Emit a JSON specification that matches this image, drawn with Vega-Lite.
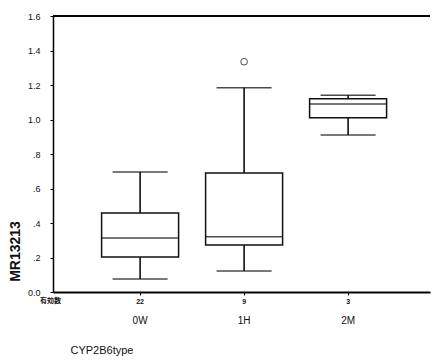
{
  "$schema": "https://vega.github.io/schema/vega-lite/v6.json",
  "width": 377,
  "height": 276,
  "autosize": {"type": "none"},
  "padding": {"left": 53, "top": 16, "right": 2, "bottom": 71},
  "background": "white",
  "config": {
    "view": {"stroke": null},
    "font": "Liberation Sans",
    "axis": {"grid": false, "labelColor": "#111", "titleColor": "#111", "domainColor": "#000", "tickColor": "#000"},
    "axisY": {"labelOverlap": false, "tickCount": 9}
  },
  "data": {
    "values": [
      {"type": "0W", "lower": 0.075, "q1": 0.203, "median": 0.313, "q3": 0.458, "upper": 0.696, "outlier": null},
      {"type": "1H", "lower": 0.122, "q1": 0.272, "median": 0.32, "q3": 0.69, "upper": 1.184, "outlier": 1.335},
      {"type": "2M", "lower": 0.91, "q1": 1.01, "median": 1.09, "q3": 1.12, "upper": 1.14, "outlier": null}
    ]
  },
  "resolve": {"axis": {"x": "independent"}},
  "layer": [
    {
      "mark": {"type": "rule", "color": "#000", "strokeWidth": 1.5},
      "encoding": {
        "x": {
          "field": "type", "type": "nominal",
          "scale": {"type": "band", "domain": ["0W", "1H", "2M"], "paddingInner": 0, "paddingOuter": 0.3125, "align": 0.54},
          "axis": {
            "orient": "bottom",
            "domainWidth": 2,
            "tickSize": 3,
            "labelAngle": 0,
            "labelPadding": 2,
            "labelFontSize": 7,
            "labelFontWeight": "bold",
            "labelBaseline": "top",
            "labelExpr": "datum.value == '0W' ? '22' : datum.value == '1H' ? '9' : '3'",
            "title": "有効数",
            "titleFont": "Noto Sans CJK JP",
            "titleFontSize": 7,
            "titleFontWeight": "bold",
            "titleX": -3,
            "titleY": 4,
            "titleAlign": "center",
            "titleBaseline": "top"
          }
        },
        "y": {
          "field": "lower", "type": "quantitative",
          "scale": {"domain": [0, 1.6], "nice": false},
          "axis": {
            "values": [0, 0.2, 0.4, 0.6, 0.8, 1.0, 1.2, 1.4, 1.6],
            "labelOverlap": false,
            "labelExpr": "datum.value == 0 ? '0.0' : datum.value < 1 ? replace(format(datum.value, '.1f'), '0.', '.') : format(datum.value, '.1f')",
            "labelFontSize": 9,
            "labelPadding": 10,
            "tickSize": 3,
            "domainWidth": 1.5,
            "title": "MR13213",
            "titleFontSize": 14,
            "titleFontWeight": "bold",
            "titleX": -38,
            "titleY": 235,
            "titleAngle": -90,
            "titleAlign": "center",
            "titleBaseline": "middle"
          }
        },
        "y2": {"field": "upper"}
      }
    },
    {
      "mark": {"type": "bar", "fill": "white", "stroke": "#111", "strokeWidth": 1.5, "size": 77},
      "encoding": {
        "x": {
          "field": "type", "type": "nominal",
          "axis": {
            "orient": "bottom",
            "domain": false,
            "ticks": false,
            "labelAngle": 0,
            "labelPadding": 23,
            "labelFontSize": 10,
            "labelBaseline": "top",
            "title": "CYP2B6type",
            "titleFontSize": 11,
            "titleFontWeight": "normal",
            "titleX": 17,
            "titleY": 58,
            "titleAlign": "left",
            "titleBaseline": "middle"
          }
        },
        "y": {"field": "q1", "type": "quantitative"},
        "y2": {"field": "q3"}
      }
    },
    {
      "mark": {"type": "tick", "color": "#000", "thickness": 1.5, "size": 77},
      "encoding": {
        "x": {"field": "type", "type": "nominal", "axis": null},
        "y": {"field": "median", "type": "quantitative"}
      }
    },
    {
      "mark": {"type": "tick", "color": "#000", "thickness": 1.5, "size": 55},
      "encoding": {
        "x": {"field": "type", "type": "nominal", "axis": null},
        "y": {"field": "upper", "type": "quantitative"}
      }
    },
    {
      "mark": {"type": "tick", "color": "#000", "thickness": 1.5, "size": 55},
      "encoding": {
        "x": {"field": "type", "type": "nominal", "axis": null},
        "y": {"field": "lower", "type": "quantitative"}
      }
    },
    {
      "mark": {"type": "point", "shape": "circle", "filled": false, "color": "#000", "size": 45, "strokeWidth": 1},
      "encoding": {
        "x": {"field": "type", "type": "nominal", "axis": null},
        "y": {"field": "outlier", "type": "quantitative"}
      }
    },
    {
      "mark": {"type": "rule", "color": "#000", "strokeWidth": 1.5},
      "encoding": {
        "y": {"datum": 1.6, "type": "quantitative"}
      }
    }
  ]
}
